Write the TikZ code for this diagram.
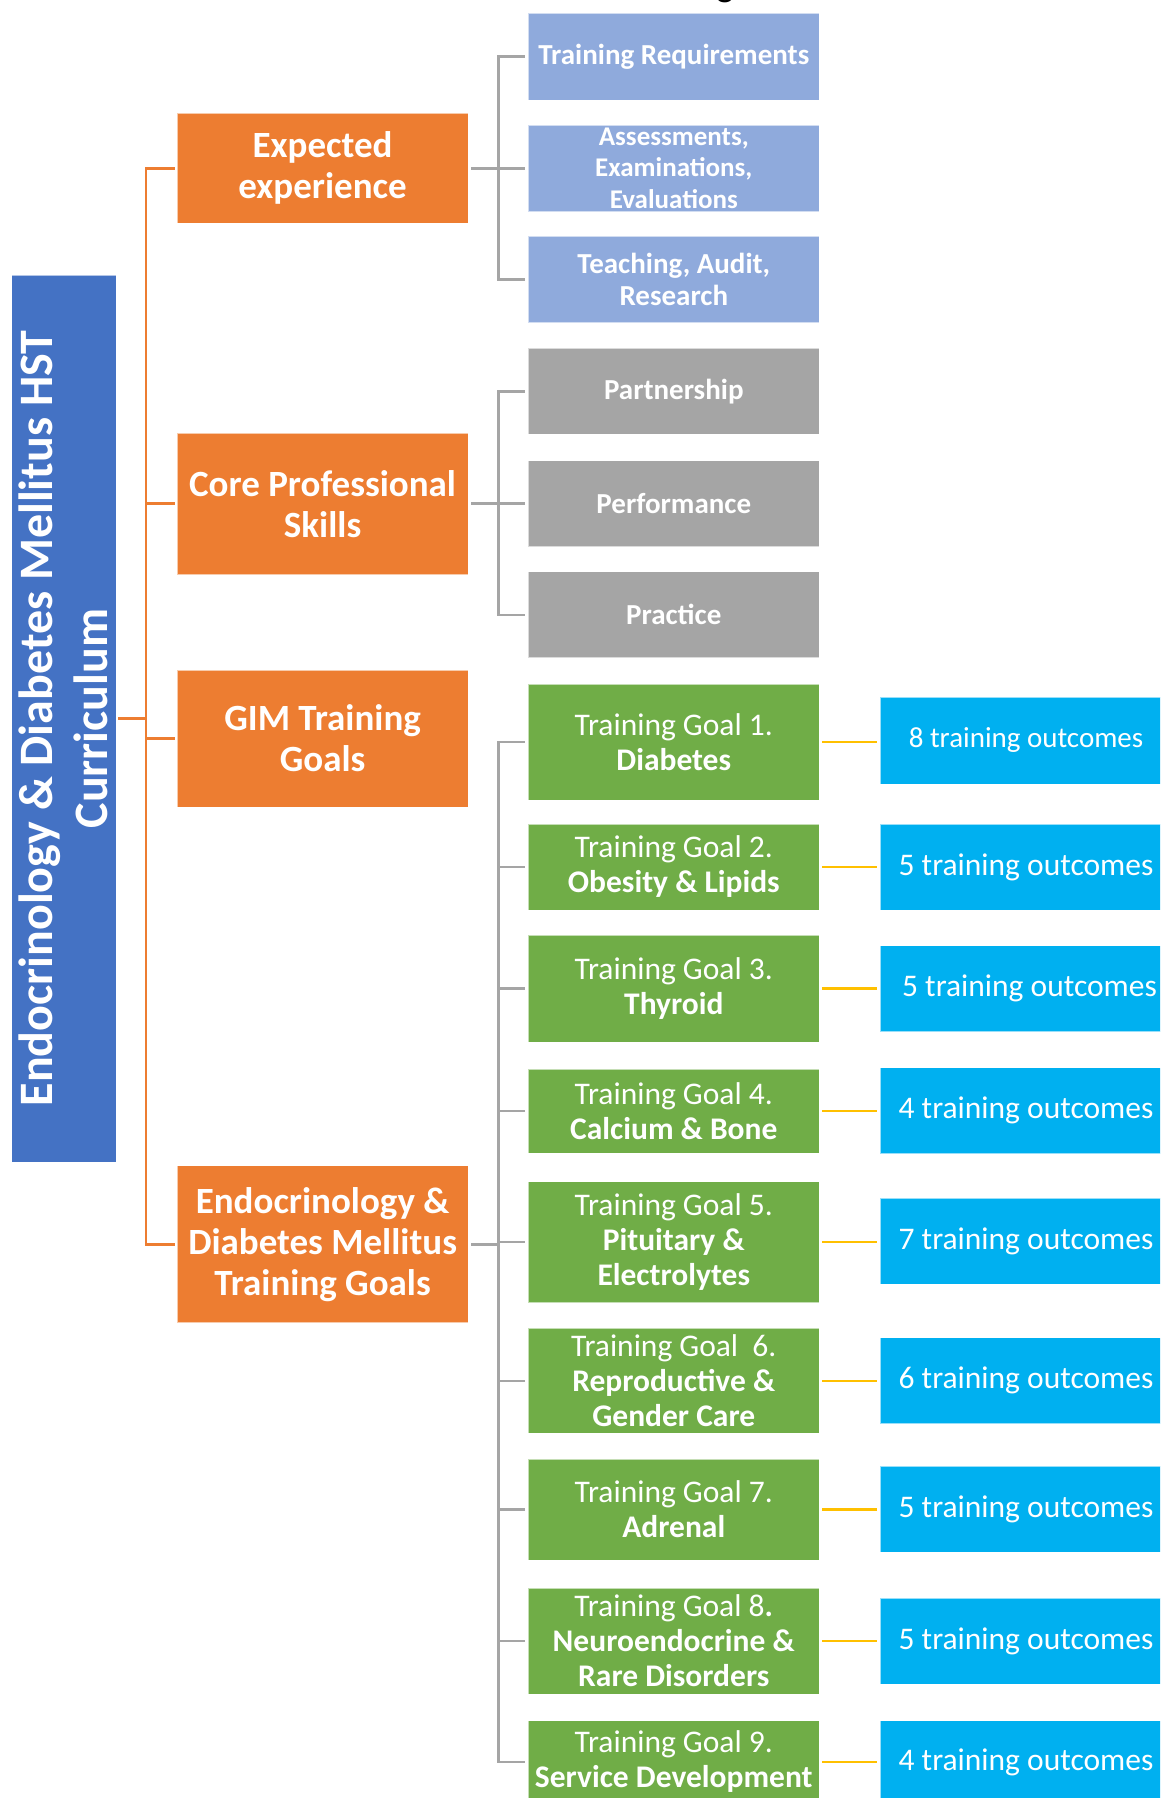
\documentclass[tikz,border=0pt]{standalone}
\usepackage{fontspec}
\setmainfont{Carlito}
\definecolor{orng}{HTML}{ED7D31}
\definecolor{lblue}{HTML}{8FAADC}
\definecolor{gry}{HTML}{A5A5A5}
\definecolor{grn}{HTML}{70AD47}
\definecolor{cyanb}{HTML}{00B0F0}
\definecolor{rootb}{HTML}{4472C4}
\definecolor{yel}{HTML}{FFC000}
\begin{document}
\begin{tikzpicture}[x=1pt,y=-1pt,
 box/.style={draw=white, draw opacity=0.6, line width=0.8pt, inner sep=0pt, align=center, text=white, anchor=center},
 rootbox/.style={box, fill=rootb, font=\fontsize{48}{55}\selectfont\bfseries},
 obox/.style={box, fill=orng, minimum width=290.7pt, font=\fontsize{37}{41}\selectfont\bfseries},
 lbbox/.style={box, fill=lblue, minimum width=291pt, minimum height=86.5pt, font=\fontsize{29}{32}\selectfont\bfseries},
 gybox/.style={box, fill=gry, minimum width=291pt, minimum height=86pt, font=\fontsize{29}{32}\selectfont\bfseries},
 gnbox/.style={box, fill=grn, minimum width=291pt, font=\fontsize{31.5}{35}\selectfont},
 cbox/.style={box, fill=cyanb, minimum width=292pt, minimum height=86pt, font=\fontsize{31.5}{35}\selectfont},
 oline/.style={draw=orng, line width=2.6pt},
 gline/.style={draw=gry, line width=2.6pt},
 yline/.style={draw=yel, line width=2.6pt},
]
\useasboundingbox (0,0) rectangle (1160,1798);
\clip (0,0) rectangle (1160,1798);

% cut-off title fragment
\node[anchor=base, inner sep=0pt, text=black, font=\fontsize{37}{40}\selectfont] (gfrag) at (725,-3) {g};

% root
\node[rootbox, rotate=90, minimum width=887pt, minimum height=104.5pt] (root) at (63.75,718.5)
  {Endocrinology \& Diabetes Mellitus HST\\Curriculum};

% orange level
\node[obox, minimum height=110pt] (exp) at (322.6,168.4) {Expected\\experience};
\node[obox, minimum height=141.5pt] (core) at (322.6,503.75) {Core Professional\\Skills};
\node[obox, minimum height=137pt] (gim) at (322.6,738.5) {GIM Training\\Goals};
\node[obox, minimum height=157pt] (endo) at (322.6,1244.2) {Endocrinology \&\\Diabetes Mellitus\\Training Goals};

% light blue
\node[lbbox] (tr) at (673.8,56.7) {Training Requirements};
\node[lbbox, font=\fontsize{27}{31.5}\selectfont\bfseries] (ae) at (673.8,168.3) {Assessments,\\Examinations,\\Evaluations};
\node[lbbox] (ta) at (673.8,279.3) {Teaching, Audit,\\Research};

% gray
\node[gybox] (pa) at (673.8,391.4) {Partnership};
\node[gybox] (pe) at (673.8,503.5) {Performance};
\node[gybox] (pr) at (673.8,614.8) {Practice};

% green
\node[gnbox, minimum height=116pt] (g1) at (673.8,742) {Training Goal 1.\\\textbf{Diabetes}};
\node[gnbox, minimum height=86pt] (g2) at (673.8,867) {Training Goal 2.\\\textbf{Obesity \& Lipids}};
\node[gnbox, minimum height=107pt] (g3) at (673.8,988.5) {Training Goal 3.\\\textbf{Thyroid}};
\node[gnbox, minimum height=84pt] (g4) at (673.8,1111) {Training Goal 4.\\\textbf{Calcium \& Bone}};
\node[gnbox, minimum height=121pt] (g5) at (673.8,1242) {Training Goal 5.\\\textbf{Pituitary \&}\\\textbf{Electrolytes}};
\node[gnbox, minimum height=105pt] (g6) at (673.8,1380.8) {Training Goal~~6.\\\textbf{Reproductive \&}\\\textbf{Gender Care}};
\node[gnbox, minimum height=101pt] (g7) at (673.8,1509.5) {Training Goal 7.\\\textbf{Adrenal}};
\node[gnbox, minimum height=106pt] (g8) at (673.8,1641) {Training Goal 8\textbf{.}\\\textbf{Neuroendocrine \&}\\\textbf{Rare Disorders}};
\node[gnbox, minimum height=83pt] (g9) at (673.8,1762) {Training Goal 9.\\\textbf{Service Development}};

% outcomes
\node[cbox, minimum height=87pt, font=\fontsize{29}{33}\selectfont] (o1) at (1026,740.5) {8 training outcomes};
\node[cbox] (o2) at (1026,867) {5 training outcomes};
\node[cbox] (o3) at (1026,988.6) {\hspace{7pt}5 training outcomes};
\node[cbox] (o4) at (1026,1110.5) {4 training outcomes};
\node[cbox] (o5) at (1026,1241) {7 training outcomes};
\node[cbox] (o6) at (1026,1380.8) {6 training outcomes};
\node[cbox] (o7) at (1026,1509) {5 training outcomes};
\node[cbox] (o8) at (1026,1641) {5 training outcomes};
\node[cbox, minimum height=83pt] (o9) at (1026,1762) {4 training outcomes};

% orange connectors
\coordinate (ob) at (146,718.5);
\draw[oline] ([xshift=2pt]root.south) -- (ob);
\foreach \n in {exp,core,gim,endo} \draw[oline] ([xshift=-2pt]\n.west) -| (ob);

% gray connectors
\coordinate (eb) at (498.5,168.4);
\coordinate (cb) at (498.5,503.75);
\coordinate (gb) at (498.5,1244.2);
\draw[gline] ([xshift=3pt]exp.east) -- (eb);
\foreach \n in {tr,ae,ta} \draw[gline] ([xshift=-3pt]\n.west) -| (eb);
\draw[gline] ([xshift=3pt]core.east) -- (cb);
\foreach \n in {pa,pe,pr} \draw[gline] ([xshift=-3pt]\n.west) -| (cb);
\draw[gline] ([xshift=3pt]endo.east) -- (gb);
\foreach \n in {g1,g2,g3,g4,g5,g6,g7,g8,g9} \draw[gline] ([xshift=-3pt]\n.west) -| (gb);

% yellow connectors
\foreach \i in {1,...,9} \draw[yline, shorten >=2.5pt] ([xshift=2.5pt]g\i.east) -- (g\i.east -| o\i.west);
\end{tikzpicture}
\end{document}
